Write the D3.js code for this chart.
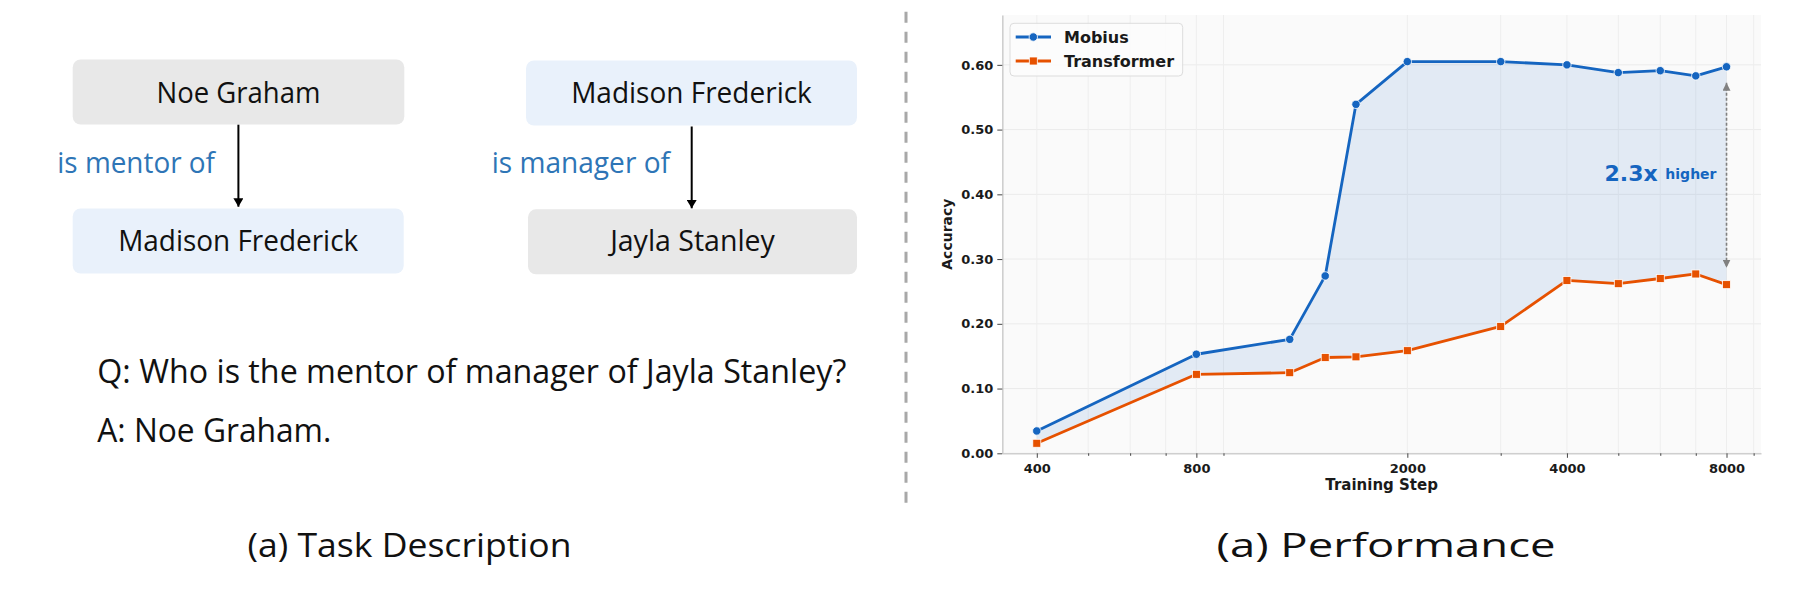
<!DOCTYPE html>
<html>
<head>
<meta charset="utf-8">
<script src="https://cdn.jsdelivr.net/npm/d3@7"></script>
<style>
  html, body { margin: 0; padding: 0; background: #ffffff; }
  svg { display: block; }
</style>
</head>
<body>
<svg id="fig" width="1811" height="590"></svg>
<script>
// ---------------- DATA ----------------
const steps = [400, 800, 1200, 1400, 1600, 2000, 3000, 4000, 5000, 6000, 7000, 8000];
const mobius = [0.0345, 0.153, 0.176, 0.274, 0.539, 0.605, 0.605, 0.600, 0.588, 0.591, 0.583, 0.597];
const transformer = [0.0155, 0.122, 0.1245, 0.148, 0.149, 0.1585, 0.196, 0.267, 0.262, 0.270, 0.277, 0.2605];
const seriesNames = ["Mobius", "Transformer"];
const xTickValues = [400, 800, 2000, 4000, 8000];
const xMinorTickValues = [500, 600, 700, 900, 3000, 5000, 6000, 7000, 9000];
const yTickValues = [0.0, 0.1, 0.2, 0.3, 0.4, 0.5, 0.6];
const annotationMain = "2.3x";
const annotationSub = "higher";
const xLabel = "Training Step";
const yLabel = "Accuracy";

// left panel texts
const headNames = ["Noe Graham", "Madison Frederick"];
const tailNames = ["Madison Frederick", "Jayla Stanley"];
const relations = ["is mentor of", "is manager of"];
const question = "Q: Who is the mentor of manager of Jayla Stanley?";
const answer = "A: Noe Graham.";
const captions = ["(a) Task Description", "(a) Performance"];

// ---------------- STYLE ----------------
const BLUE = "#1565C0", ORANGE = "#E65100";
const svg = d3.select("#fig");
const leftFont = "'Open Sans', 'Noto Sans', sans-serif";
const chartFont = "'DejaVu Sans', sans-serif";

// ---------------- LEFT PANEL ----------------
const boxes = [
  {x: 72.7, y: 59.5, w: 331.6, h: 65, fill: "#e8e8e8", text: headNames[0], tw: 164, base: 102.7},
  {x: 72.7, y: 208.5, w: 331, h: 65, fill: "#e9f1fb", text: tailNames[0], tw: 240, base: 250.7},
  {x: 526, y: 60.5, w: 331, h: 65, fill: "#e9f1fb", text: headNames[1], tw: 240.7, base: 103.3},
  {x: 528, y: 209.3, w: 329, h: 65, fill: "#e8e8e8", text: tailNames[1], tw: 164.7, base: 250.7}
];
const gl = svg.append("g");
boxes.forEach(b => {
  gl.append("rect").attr("x", b.x).attr("y", b.y).attr("width", b.w).attr("height", b.h)
    .attr("rx", 8).attr("ry", 8).attr("fill", b.fill);
  gl.append("text").attr("x", b.x + b.w / 2).attr("y", b.base)
    .attr("text-anchor", "middle").attr("font-family", leftFont).attr("font-size", 29)
    .attr("fill", "#111").attr("textLength", b.tw).attr("lengthAdjust", "spacingAndGlyphs")
    .text(b.text);
});

const defs = svg.append("defs");
defs.append("marker").attr("id", "blackHead").attr("viewBox", "0 0 10 12")
  .attr("refX", 10).attr("refY", 6).attr("markerWidth", 12).attr("markerHeight", 10)
  .attr("markerUnits", "userSpaceOnUse").attr("orient", "auto")
  .append("path").attr("d", "M0,0 L10,6 L0,12 Z").attr("fill", "#000");

[[238.4, 124.7, 206.7], [691.7, 126.5, 208.3]].forEach(a => {
  gl.append("line").attr("x1", a[0]).attr("x2", a[0]).attr("y1", a[1]).attr("y2", a[2])
    .attr("stroke", "#000").attr("stroke-width", 2).attr("marker-end", "url(#blackHead)");
});

[{t: relations[0], x: 57.3, y: 172.7, w: 157.7}, {t: relations[1], x: 491.7, y: 173.3, w: 178.3}].forEach(r => {
  gl.append("text").attr("x", r.x).attr("y", r.y).attr("font-family", leftFont).attr("font-size", 29)
    .attr("fill", "#2E75B6").attr("textLength", r.w).attr("lengthAdjust", "spacingAndGlyphs").text(r.t);
});

gl.append("text").attr("x", 97.3).attr("y", 383.3).attr("font-family", leftFont).attr("font-size", 32)
  .attr("fill", "#111").attr("textLength", 749).attr("lengthAdjust", "spacingAndGlyphs").text(question);
gl.append("text").attr("x", 97.3).attr("y", 441.7).attr("font-family", leftFont).attr("font-size", 32)
  .attr("fill", "#111").attr("textLength", 234).attr("lengthAdjust", "spacingAndGlyphs").text(answer);

gl.append("text").attr("x", 409.5).attr("y", 557.3).attr("text-anchor", "middle").attr("font-family", leftFont)
  .attr("font-size", 33).attr("fill", "#111").attr("textLength", 324).attr("lengthAdjust", "spacingAndGlyphs")
  .text(captions[0]);
gl.append("text").attr("x", 1386).attr("y", 557.3).attr("text-anchor", "middle").attr("font-family", leftFont)
  .attr("font-size", 33).attr("fill", "#111").attr("textLength", 339).attr("lengthAdjust", "spacingAndGlyphs")
  .text(captions[1]);

// divider
svg.append("line").attr("x1", 906).attr("x2", 906).attr("y1", 11.7).attr("y2", 503)
  .attr("stroke", "#a8a8a8").attr("stroke-width", 3).attr("stroke-dasharray", "11,9");

// ---------------- CHART ----------------
const plot = {left: 1002.3, right: 1761, top: 15, bottom: 453.3};
const lx0 = Math.log2(d3.min(steps)), lx1 = Math.log2(d3.max(steps));
const m = (lx1 - lx0) * 0.05;
const x = d3.scaleLog().base(2).domain([Math.pow(2, lx0 - m), Math.pow(2, lx1 + m)])
  .range([plot.left, plot.right]);
const y = d3.scaleLinear().domain([0, 0.677]).range([plot.bottom, plot.top]);

const gc = svg.append("g");
gc.append("rect").attr("x", plot.left).attr("y", plot.top)
  .attr("width", plot.right - plot.left).attr("height", plot.bottom - plot.top).attr("fill", "#fafafa");

// grid
gc.append("g").selectAll("line").data(yTickValues).join("line")
  .attr("x1", plot.left).attr("x2", plot.right).attr("y1", d => y(d)).attr("y2", d => y(d))
  .attr("stroke", "#ebebeb").attr("stroke-width", 1);
gc.append("g").selectAll("line").data(xTickValues.concat(xMinorTickValues)).join("line")
  .attr("x1", d => x(d)).attr("x2", d => x(d)).attr("y1", plot.top).attr("y2", plot.bottom)
  .attr("stroke", "#eeeeee").attr("stroke-width", 1);

// fill between
const pts = steps.map((s, i) => ({s, a: mobius[i], b: transformer[i]}));
gc.append("path").datum(pts)
  .attr("d", d3.area().x(d => x(d.s)).y0(d => y(d.b)).y1(d => y(d.a)))
  .attr("fill", BLUE).attr("fill-opacity", 0.1);

// axes
const yAxis = d3.axisLeft(y).tickValues(yTickValues).tickFormat(d3.format(".2f"))
  .tickSizeInner(5).tickSizeOuter(0).tickPadding(4);
const gy = gc.append("g").attr("transform", `translate(${plot.left},0)`).call(yAxis);
const xAxis = d3.axisBottom(x).tickValues(xTickValues).tickFormat(d3.format("d"))
  .tickSizeInner(4.5).tickSizeOuter(0).tickPadding(6);
const gx = gc.append("g").attr("transform", `translate(0,${plot.bottom})`).call(xAxis);
const xMinorAxis = d3.axisBottom(x).tickValues(xMinorTickValues).tickFormat("")
  .tickSizeInner(2.5).tickSizeOuter(0);
const gxm = gc.append("g").attr("transform", `translate(0,${plot.bottom})`).call(xMinorAxis);
gxm.select(".domain").remove();
[gx, gy].forEach(g => {
  g.select(".domain").attr("stroke", "#cfcfcf").attr("stroke-width", 1.6);
  g.selectAll("text").attr("font-family", chartFont).attr("font-weight", "bold")
    .attr("font-size", 13).attr("fill", "#1a1a1a");
});
gc.selectAll(".tick line").attr("stroke", "#444").attr("stroke-width", 1);

gc.append("text").attr("x", (plot.left + plot.right) / 2).attr("y", 490).attr("text-anchor", "middle")
  .attr("font-family", chartFont).attr("font-weight", "bold").attr("font-size", 15).attr("fill", "#1a1a1a")
  .text(xLabel);
gc.append("text").attr("transform", `translate(952,${(plot.top + plot.bottom) / 2}) rotate(-90)`)
  .attr("text-anchor", "middle").attr("font-family", chartFont).attr("font-weight", "bold")
  .attr("font-size", 14).attr("fill", "#1a1a1a").text(yLabel);

// lines
const lineGen = d3.line().x(d => x(d.s)).y(d => y(d.v));
const mob = steps.map((s, i) => ({s, v: mobius[i]}));
const tra = steps.map((s, i) => ({s, v: transformer[i]}));
gc.append("path").datum(tra).attr("d", lineGen).attr("fill", "none")
  .attr("stroke", ORANGE).attr("stroke-width", 2.8).attr("stroke-linejoin", "round");
gc.append("path").datum(mob).attr("d", lineGen).attr("fill", "none")
  .attr("stroke", BLUE).attr("stroke-width", 2.8).attr("stroke-linejoin", "round");
gc.append("g").selectAll("rect").data(tra).join("rect")
  .attr("x", d => x(d.s) - 4).attr("y", d => y(d.v) - 4).attr("width", 8).attr("height", 8)
  .attr("fill", ORANGE).attr("stroke", "#fff").attr("stroke-width", 0.8);
gc.append("g").selectAll("circle").data(mob).join("circle")
  .attr("cx", d => x(d.s)).attr("cy", d => y(d.v)).attr("r", 4.2)
  .attr("fill", BLUE).attr("stroke", "#fff").attr("stroke-width", 0.8);

// annotation arrow
defs.append("marker").attr("id", "grayHead").attr("viewBox", "0 0 10 10")
  .attr("refX", 10).attr("refY", 5).attr("markerWidth", 8).attr("markerHeight", 8)
  .attr("markerUnits", "userSpaceOnUse").attr("orient", "auto-start-reverse")
  .append("path").attr("d", "M0,0 L10,5 L0,10 Z").attr("fill", "#808080");
const lastI = steps.length - 1;
const ax = x(steps[lastI]);
gc.append("line").attr("x1", ax).attr("x2", ax)
  .attr("y1", y(mobius[lastI]) + 16).attr("y2", y(transformer[lastI]) - 17)
  .attr("stroke", "#808080").attr("stroke-width", 1.6).attr("stroke-dasharray", "3,2")
  .attr("marker-start", "url(#grayHead)").attr("marker-end", "url(#grayHead)");
const midY = y((mobius[lastI] + transformer[lastI]) / 2);
const at = gc.append("text").attr("x", ax - 10).attr("y", midY + 5).attr("text-anchor", "end")
  .attr("font-family", chartFont).attr("font-weight", "bold").attr("fill", BLUE);
at.append("tspan").attr("font-size", 22).text(annotationMain + " ");
at.append("tspan").attr("font-size", 14).attr("dy", -1.5).text(annotationSub);

// legend
const lg = gc.append("g");
lg.append("rect").attr("x", 1010).attr("y", 23.3).attr("width", 172.7).attr("height", 52.7)
  .attr("rx", 4).attr("fill", "#fcfcfc").attr("fill-opacity", 0.9).attr("stroke", "#dcdcdc").attr("stroke-width", 1);
[{n: seriesNames[0], c: BLUE, cy: 37, shape: "circle"}, {n: seriesNames[1], c: ORANGE, cy: 61, shape: "square"}].forEach(e => {
  lg.append("line").attr("x1", 1015.7).attr("x2", 1051).attr("y1", e.cy).attr("y2", e.cy)
    .attr("stroke", e.c).attr("stroke-width", 2.8);
  if (e.shape === "circle") {
    lg.append("circle").attr("cx", 1033.3).attr("cy", e.cy).attr("r", 4.2).attr("fill", e.c)
      .attr("stroke", "#fff").attr("stroke-width", 0.8);
  } else {
    lg.append("rect").attr("x", 1029.3).attr("y", e.cy - 4).attr("width", 8).attr("height", 8)
      .attr("fill", e.c).attr("stroke", "#fff").attr("stroke-width", 0.8);
  }
  lg.append("text").attr("x", 1064).attr("y", e.cy + 6).attr("font-family", chartFont)
    .attr("font-weight", "bold").attr("font-size", 16).attr("fill", "#1a1a1a").text(e.n);
});
</script>
</body>
</html>
